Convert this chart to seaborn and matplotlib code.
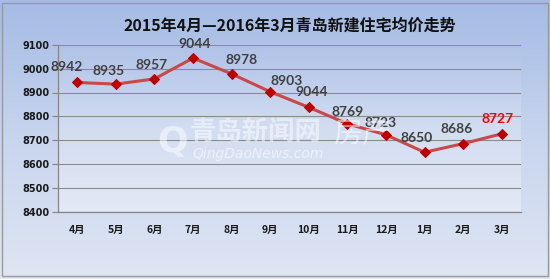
import numpy as np
import pandas as pd
import matplotlib
matplotlib.use("Agg")
import matplotlib.pyplot as plt
import seaborn as sns
from matplotlib.patches import Rectangle
from matplotlib.colors import LinearSegmentedColormap

# ---- data ----
title = "2015年4月—2016年3月青岛新建住宅均价走势"
months = ["4月", "5月", "6月", "7月", "8月", "9月", "10月", "11月", "12月", "1月", "2月", "3月"]
prices = [8942, 8935, 8957, 9044, 8978, 8903, 8838, 8769, 8723, 8650, 8686, 8727]
point_labels = ["8942", "8935", "8957", "9044", "8978", "8903", "9044", "8769", "8723", "8650", "8686", "8727"]
yticks = [8400, 8500, 8600, 8700, 8800, 8900, 9000, 9100]

# label offsets in pixels (style only)
label_dx = [-11, -7, -3, 2, 10, 16, 3, 0, -5, -8, -6, -4]
label_dy = [15, 13, 14, 14, 14, 11, 15, 12, 12, 14, 15, 15]

sns.set_theme(style="white")
plt.rcParams['font.family'] = ['Noto Sans CJK SC', 'DejaVu Sans']

W, H = 550, 279
fig = plt.figure(figsize=(W / 100, H / 100), dpi=100)

# chart-area gradient background
bg = fig.add_axes([0, 0, 1, 1], zorder=-10)
grad = np.linspace(0, 1, 256).reshape(-1, 1)
cmap_bg = LinearSegmentedColormap.from_list("bg", ["#a4bbe4", "#c8d5ee", "#dfe6f3"])
bg.imshow(grad, aspect="auto", cmap=cmap_bg, extent=[0, 1, 0, 1], origin="upper")
bg.set_xlim(0, 1); bg.set_ylim(0, 1)
bg.axis("off")
bg.add_patch(Rectangle((2 / W, 3 / H), (546) / W, (273) / H, fill=False,
                       edgecolor="#9a9a9a", lw=1.0, transform=bg.transAxes))

left, right, top, bottom = 58, 521, 44.7, 212
ax = fig.add_axes([left / W, (H - bottom) / H, (right - left) / W, (bottom - top) / H])
ax.set_facecolor("none")
cmap_pa = LinearSegmentedColormap.from_list("pa", ["#afc2e7", "#d2ddf1", "#e3e9f5"])
ax.imshow(grad, aspect="auto", cmap=cmap_pa, extent=[0, 1, 0, 1], origin="upper",
          transform=ax.transAxes, zorder=0)

df = pd.DataFrame({"month": months, "price": prices})
df["pos"] = np.arange(len(months))

sns.lineplot(data=df, x="pos", y="price", ax=ax, color="#c94848", lw=2.2,
             marker="D", markersize=5.5, markerfacecolor="#c00000",
             markeredgecolor="#c00000", zorder=5)

ax.set_xlim(-0.5, len(months) - 0.5)
ax.set_ylim(yticks[0], yticks[-1])
ax.set_yticks(yticks)
ax.set_yticklabels([str(v) for v in yticks], fontsize=7, fontweight="bold",
                   color="#1a1a1a", family=["DejaVu Sans"])
ax.set_xticks(df["pos"])
ax.set_xticklabels(months, fontsize=7.5, fontweight="bold", color="#1a1a1a")
ax.set_xticks(np.arange(-0.5, len(months)), minor=True)
ax.tick_params(axis="x", which="major", length=0, pad=9)
ax.tick_params(axis="x", which="minor", length=4, width=0.8, color="#868686", direction="out")
ax.tick_params(axis="y", length=4, width=0.8, color="#868686", direction="out", pad=2, left=True)
ax.set_xlabel(""); ax.set_ylabel("")
ax.grid(axis="y", color="#8c8c8c", lw=0.8)
ax.grid(axis="x", visible=False)
for s in ["top", "right"]:
    ax.spines[s].set_visible(False)
for s in ["left", "bottom"]:
    ax.spines[s].set_color("#868686")
    ax.spines[s].set_linewidth(0.9)

# watermark
fig.text(157 / W, 1 - 142 / H, "Q", fontsize=26, color="white", alpha=0.5,
         fontweight="bold", va="center", ha="left", family=["DejaVu Sans"])
fig.text(190 / W, 1 - 132 / H, "青岛新闻网", fontsize=19, color="white", alpha=0.5,
         fontweight="bold", va="center", ha="left")
fig.text(333 / W, 1 - 134 / H, "房产", fontsize=21, color="white", alpha=0.5,
         fontstyle="italic", va="center", ha="left", fontweight="light")
fig.text(192 / W, 1 - 154 / H, "QingDaoNews.com", fontsize=10, color="white", alpha=0.55,
         fontstyle="italic", va="center", ha="left", family=["DejaVu Sans"])

# data labels
for i, (p, lab) in enumerate(zip(prices, point_labels)):
    last = i == len(prices) - 1
    ax.annotate(lab, (i, p), xytext=(label_dx[i] * 0.72, label_dy[i] * 0.72),
                textcoords="offset points", ha="center", va="center",
                fontsize=10, color="#ff0000" if last else "#404040",
                fontweight="bold",
                family=["Lato", "DejaVu Sans"], zorder=6)

fig.text(290 / W, 1 - 25.5 / H, title, fontsize=11.5, fontweight="bold",
         color="#111111", ha="center", va="center")

fig.savefig("out.png", dpi=100)
